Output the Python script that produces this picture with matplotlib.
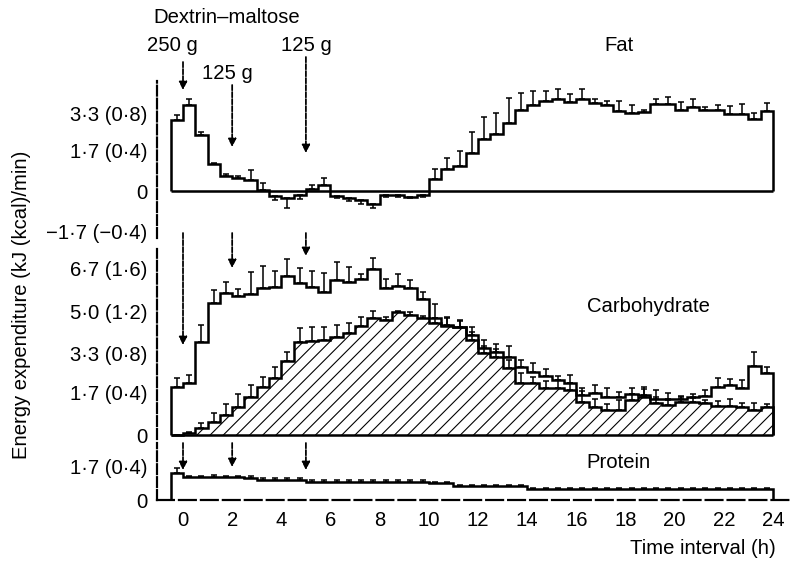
import numpy as np
import matplotlib.pyplot as plt

plt.rcParams['font.family'] = ['Liberation Sans', 'DejaVu Sans']
plt.rcParams['hatch.linewidth'] = 1.0

W, H, DPI = 790, 563, 79
FS = 18.5

# half-hour intervals, -0.5 h to 24 h
t_edges = np.arange(-0.5, 24.01, 0.5)

# kJ/min
fat = np.array([3.02, 3.65, 2.37, 1.14, 0.64, 0.54, 0.46, 0.05, -0.2, -0.3,
                -0.15, 0.1, 0.25, -0.2, -0.3, -0.4, -0.55, -0.15, -0.15, -0.25,
                -0.15, 0.52, 0.94, 1.08, 1.6, 2.2, 2.43, 2.88, 3.45, 3.66,
                3.82, 3.88, 3.78, 3.89, 3.73, 3.63, 3.4, 3.31, 3.35, 3.7,
                3.7, 3.42, 3.56, 3.42, 3.45, 3.28, 3.28, 3.07, 3.4])
fat_err = np.array([0.2, 0.26, 0.14, 0.05, 0.07, 0.1, 0.44, 0.28, 0.17, 0.4,
                    0.17, 0.17, 0.31, 0.1, 0.11, 0.17, 0.17, 0.1, 0.1, 0.05,
                    0.1, 0.43, 0.45, 0.61, 0.92, 0.92, 0.88, 1.04, 0.71, 0.58,
                    0.41, 0.43, 0.35, 0.45, 0.18, 0.17, 0.41, 0.33, 0.1, 0.21,
                    0.28, 0.33, 0.33, 0.14, 0.21, 0.33, 0.4, 0.24, 0.31])

carb_total = np.array([1.95, 2.08, 3.76, 5.34, 5.71, 5.6, 5.67, 5.91, 5.95, 6.41,
                       6.14, 5.98, 5.78, 6.25, 6.18, 6.28, 6.68, 5.91, 6.02, 5.91,
                       5.47, 4.7, 4.45, 4.35, 4.05, 3.5, 3.36, 3.16, 2.76, 2.55,
                       2.38, 2.22, 2.1, 1.6, 1.7, 1.55, 1.55, 1.65, 1.6, 1.45,
                       1.45, 1.45, 1.52, 1.58, 1.92, 2.0, 1.88, 2.8, 2.49])
carb_total_err = np.array([0.36, 0.36, 0.67, 0.51, 0.44, 0.27, 0.91, 0.9, 0.66, 0.67,
                           0.58, 0.63, 0.74, 0.71, 0.6, 0.2, 0.44, 0.38, 0.46, 0.34,
                           0.28, 0.6, 0.3, 0.3, 0.3, 0.34, 0.3, 0.44, 0.27, 0.34,
                           0.27, 0.16, 0.34, 0.3, 0.3, 0.36, 0.18, 0.26, 0.32, 0.36,
                           0.26, 0.13, 0.13, 0.23, 0.36, 0.27, 0.34, 0.56, 0.27])

# hatched part (exogenous)
carb_exo = np.array([0.0, 0.08, 0.27, 0.54, 0.8, 1.14, 1.55, 1.95, 2.28, 3.0,
                     3.75, 3.8, 3.85, 3.95, 4.1, 4.4, 4.7, 4.65, 4.95, 4.85,
                     4.7, 4.5, 4.4, 4.35, 3.85, 3.3, 3.16, 2.69, 2.08, 2.08,
                     1.88, 1.88, 1.81, 1.34, 1.14, 1.0, 1.0, 1.41, 1.55, 1.28,
                     1.21, 1.34, 1.34, 1.28, 1.17, 1.17, 1.12, 1.0, 1.14])
carb_exo_err = np.array([0.0, 0.05, 0.2, 0.35, 0.45, 0.5, 0.45, 0.4, 0.45, 0.35,
                         0.55, 0.55, 0.5, 0.5, 0.4, 0.35, 0.3, 0.1, 0.05, 0.1,
                         0.1, 0.2, 0.3, 0.25, 0.3, 0.3, 0.3, 0.35, 0.43, 0.27,
                         0.3, 0.35, 0.3, 0.45, 0.3, 0.27, 0.4, 0.25, 0.3, 0.25,
                         0.2, 0.2, 0.15, 0.15, 0.2, 0.3, 0.16, 0.3, 0.1])

protein = np.array([1.35, 1.14, 1.14, 1.15, 1.13, 1.14, 1.12, 1.0, 1.0, 1.0,
                    1.0, 0.91, 0.91, 0.91, 0.91, 0.91, 0.91, 0.91, 0.91, 0.91,
                    0.91, 0.84, 0.84, 0.7, 0.7, 0.7, 0.7, 0.7, 0.7, 0.56,
                    0.56, 0.56, 0.56, 0.56, 0.56, 0.56, 0.56, 0.56, 0.56, 0.56,
                    0.56, 0.56, 0.56, 0.56, 0.56, 0.56, 0.56, 0.56, 0.56])
protein_err = np.array([0.25, 0.08, 0.08, 0.08, 0.08, 0.08, 0.08, 0.08, 0.08, 0.08,
                        0.08, 0.08, 0.08, 0.08, 0.08, 0.08, 0.08, 0.08, 0.08, 0.08,
                        0.08, 0.08, 0.08, 0.06, 0.06, 0.06, 0.06, 0.06, 0.06, 0.06,
                        0.06, 0.06, 0.06, 0.06, 0.06, 0.06, 0.06, 0.06, 0.06, 0.06,
                        0.06, 0.06, 0.06, 0.06, 0.06, 0.06, 0.06, 0.06, 0.06])

meal_times = [0, 2, 5]
meal_labels = ['250 g', '125 g', '125 g']

fat_ticks = [3.3, 1.7, 0, -1.7]
fat_ticklabels = ['3\u00b73 (0\u00b78)', '1\u00b77 (0\u00b74)', '0', '\u22121\u00b77 (\u22120\u00b74)']
carb_ticks = [6.7, 5.0, 3.3, 1.7, 0]
carb_ticklabels = ['6\u00b77 (1\u00b76)', '5\u00b70 (1\u00b72)', '3\u00b73 (0\u00b78)', '1\u00b77 (0\u00b74)', '0']
prot_ticks = [1.7, 0]
prot_ticklabels = ['1\u00b77 (0\u00b74)', '0']

centers = t_edges[:-1] + 0.25
XLIM = (-1.058, 24.695)
LW = 2.3

fig = plt.figure(figsize=(W / DPI, 7.1266), dpi=DPI)


def box(top, bottom):
    return [157 / W, 1 - bottom / H, (W - 157) / W, (bottom - top) / H]


ax_fat = fig.add_axes(box(81, 238))
ax_carb = fig.add_axes(box(249, 439))
ax_prot = fig.add_axes(box(443, 500))

for ax in (ax_fat, ax_carb, ax_prot):
    for s in ['top', 'right', 'bottom']:
        ax.spines[s].set_visible(False)
    ax.spines['left'].set_linestyle((0, (4.5, 1.4)))
    ax.spines['left'].set_linewidth(2)
    ax.tick_params(length=0, labelsize=FS, pad=9)
    ax.set_xlim(XLIM)
    ax.set_xticks([])

ax_fat.set_ylim(-1.99, 4.66)
ax_carb.set_ylim(-0.16, 7.5)
ax_prot.set_ylim(0, 2.85)
ax_fat.set_yticks(fat_ticks, fat_ticklabels)
ax_carb.set_yticks(carb_ticks, carb_ticklabels)
ax_prot.set_yticks(prot_ticks, prot_ticklabels)

ax_prot.spines['bottom'].set_visible(True)
ax_prot.spines['bottom'].set_linestyle((0, (7.7, 2.3)))
ax_prot.spines['bottom'].set_linewidth(2)
ax_prot.set_xticks(range(0, 25, 2))
ax_prot.tick_params(axis='x', pad=10)


def errs(ax, v, e):
    lo = np.where(v < 0, e, 0)
    hi = np.where(v >= 0, e, 0)
    ax.errorbar(centers, v, yerr=[lo, hi], fmt='none', ecolor='k',
                elinewidth=1.4, capsize=3, capthick=1.4, zorder=3)


# fat
ax_fat.stairs(fat, t_edges, baseline=0, color='k', lw=LW)
ax_fat.hlines(0, t_edges[0], t_edges[-1], color='k', lw=LW)
errs(ax_fat, fat, fat_err)

# carbohydrate
ax_carb.stairs(carb_exo, t_edges, baseline=0, fill=True, facecolor='none',
               edgecolor='k', hatch='//', lw=LW, zorder=1)
ax_carb.stairs(carb_total, t_edges, baseline=0, color='k', lw=LW, zorder=2)
ax_carb.hlines(0, t_edges[0], t_edges[-1], color='k', lw=LW)
errs(ax_carb, carb_total, carb_total_err)
errs(ax_carb, carb_exo, carb_exo_err)

# protein
ax_prot.stairs(protein, t_edges, baseline=0, color='k', lw=LW)
errs(ax_prot, protein, protein_err)

# arrows (y in figure pixels from the top)
arrows = [(ax_fat, [(62, 90), (85, 147), (57, 153)]),
          (ax_carb, [(233, 345), (233, 268), (233, 256)]),
          (ax_prot, [(443, 470), (443, 467), (443, 470)])]
for ax, spans in arrows:
    for t, (y0, y1) in zip(meal_times, spans):
        ax.annotate('', xy=(t, H - y1), xytext=(t, H - y0),
                    xycoords=('data', 'figure pixels'),
                    textcoords=('data', 'figure pixels'),
                    annotation_clip=False,
                    arrowprops=dict(arrowstyle='-|>', color='k', lw=1.6,
                                    linestyle=(0, (3, 1)), mutation_scale=15,
                                    shrinkA=0, shrinkB=0))


def ftext(x, y, s, **kw):
    fig.text(x / W, 1 - y / H, s, fontsize=FS, va='center', **kw)


ftext(153, 17, 'Dextrin\u2013maltose', ha='left')
ftext(172, 45, meal_labels[0], ha='center')
ftext(227, 73, meal_labels[1], ha='center')
ftext(306, 45, meal_labels[2], ha='center')
ftext(619, 45, 'Fat', ha='center')
ftext(648, 306, 'Carbohydrate', ha='center')
ftext(618, 462, 'Protein', ha='center')
ftext(776, 548, 'Time interval (h)', ha='right')
ftext(22, 305, 'Energy expenditure (kJ (kcal)/min)', ha='center', rotation=90)

fig.savefig('out.png', dpi=DPI)
